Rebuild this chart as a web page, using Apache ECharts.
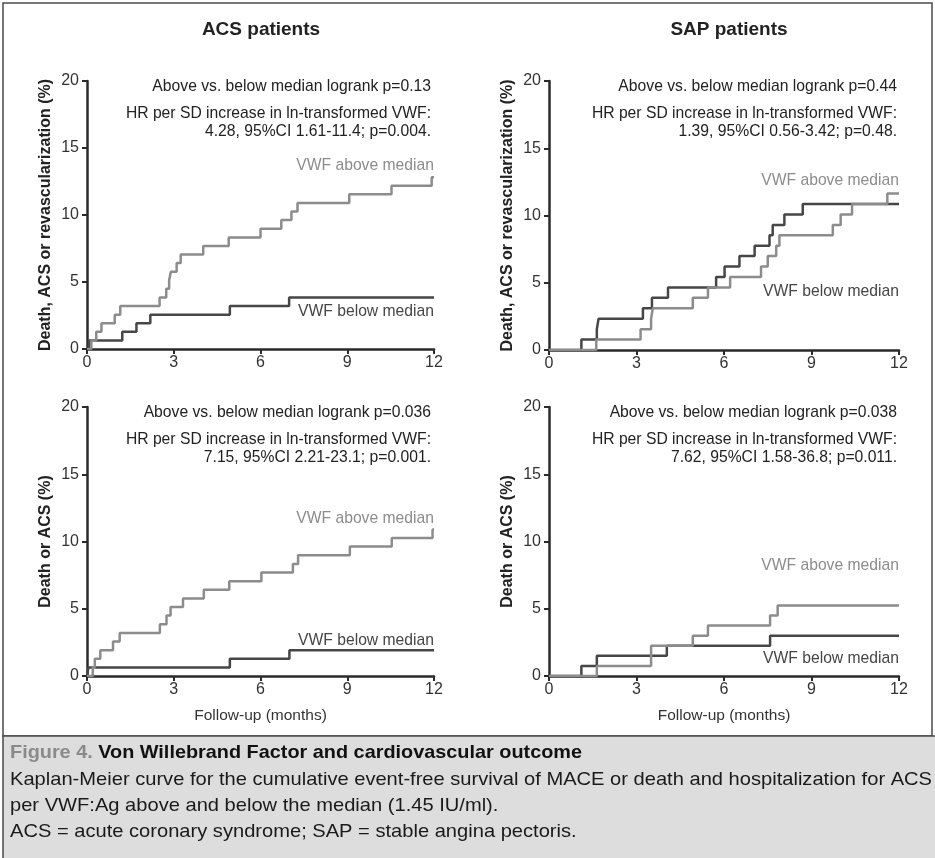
<!DOCTYPE html>
<html>
<head>
<meta charset="utf-8">
<script src="https://cdn.jsdelivr.net/npm/echarts@6/dist/echarts.min.js"></script>
<style>
  html, body { margin: 0; padding: 0; background: #fff; }
  #chart { width: 935px; height: 858px; }
</style>
</head>
<body>
<div id="chart"></div>
<script>
// Follow-up axis ticks (months) and event-rate axis ticks (%)
const monthTicks = [0, 3, 6, 9, 12];
const percentTicks = [0, 5, 10, 15, 20];

// ACS patients: death, ACS or revascularization
const acsMaceAboveT = [0, 0.15, 0.32, 0.5, 0.96, 1.15, 2.51, 2.74, 2.84, 2.9, 3.1, 3.24, 4.02, 4.9, 6.0, 6.72, 7.07, 7.28, 9.07, 10.53, 11.92, 12];
const acsMaceAboveV = [0, 0.64, 1.28, 1.92, 2.56, 3.2, 3.85, 4.49, 5.13, 5.77, 6.41, 7.05, 7.69, 8.33, 8.97, 9.62, 10.26, 10.9, 11.54, 12.18, 12.82, 12.82];
const acsMaceBelowT = [0, 0.07, 1.22, 1.71, 2.19, 4.94, 6.99, 12];
const acsMaceBelowV = [0, 0.64, 1.28, 1.92, 2.56, 3.2, 3.85, 3.85];

// SAP patients: death, ACS or revascularization
const sapMaceAboveT = [0, 1.62, 3.14, 3.5, 3.56, 4.93, 5.45, 6.21, 7.27, 7.5, 7.79, 7.9, 9.73, 10.0, 10.39, 11.6, 12];
const sapMaceAboveV = [0, 0.78, 1.55, 2.33, 3.1, 3.88, 4.65, 5.43, 6.2, 6.98, 7.75, 8.53, 9.3, 10.08, 10.85, 11.63, 11.63];
const sapMaceBelowT = [0, 1.11, 1.64, 1.7, 3.22, 3.53, 4.08, 5.73, 6.02, 6.53, 7.05, 7.56, 7.67, 8.07, 8.7, 12];
const sapMaceBelowV = [0, 0.78, 1.55, 2.33, 3.1, 3.88, 4.65, 5.43, 6.2, 6.98, 7.75, 8.53, 9.3, 10.08, 10.85, 10.85];

// ACS patients: death or ACS
const acsDeathAboveT = [0, 0.2, 0.27, 0.46, 0.9, 1.13, 2.52, 2.75, 2.89, 3.32, 4.04, 4.92, 6.03, 7.12, 7.3, 9.09, 10.54, 11.95, 12];
const acsDeathAboveV = [0, 0.64, 1.28, 1.92, 2.56, 3.2, 3.85, 4.49, 5.13, 5.77, 6.41, 7.05, 7.69, 8.33, 8.97, 9.62, 10.26, 10.9, 10.9];
const acsDeathBelowT = [0, 0.05, 4.94, 7.0, 12];
const acsDeathBelowV = [0, 0.64, 1.28, 1.92, 1.92];

// SAP patients: death or ACS
const sapDeathAboveT = [0, 1.64, 3.5, 4.93, 5.45, 7.58, 7.84, 12];
const sapDeathAboveV = [0, 0.75, 2.25, 3.0, 3.75, 4.5, 5.25, 5.25];
const sapDeathBelowT = [0, 1.11, 1.64, 4.04, 7.58, 12];
const sapDeathBelowV = [0, 0.75, 1.5, 2.25, 3.0, 3.0];

const panelTitles = ['ACS patients', 'SAP patients'];
const yTitles = ['Death, ACS or revascularization (%)', 'Death or ACS (%)'];
const xTitle = 'Follow-up (months)';
const statLines = [
  ['Above vs. below median logrank p=0.13', 'HR per SD increase in ln-transformed VWF:', '4.28, 95%CI 1.61-11.4; p=0.004.'],
  ['Above vs. below median logrank p=0.44', 'HR per SD increase in ln-transformed VWF:', '1.39, 95%CI 0.56-3.42; p=0.48.'],
  ['Above vs. below median logrank p=0.036', 'HR per SD increase in ln-transformed VWF:', '7.15, 95%CI 2.21-23.1; p=0.001.'],
  ['Above vs. below median logrank p=0.038', 'HR per SD increase in ln-transformed VWF:', '7.62, 95%CI 1.58-36.8; p=0.011.']
];
const aboveName = 'VWF above median';
const belowName = 'VWF below median';
const captionTitleA = 'Figure 4. ';
const captionTitleB = 'Von Willebrand Factor and cardiovascular outcome';
const captionLines = [
  'Kaplan-Meier curve for the cumulative event-free survival of MACE or death and hospitalization for ACS',
  'per VWF:Ag above and below the median (1.45 IU/ml).',
  'ACS = acute coronary syndrome; SAP = stable angina pectoris.'
];

const FONT = '"Liberation Sans", Arial, Helvetica, sans-serif';
const LIGHT = '#8c8c8c';
const DARK = '#464646';
const AXIS = '#2a2a2a';
const TXT = 15.7;

const pairs = (t, v) => t.map((x, i) => [x, v[i]]);

const panels = [
  { above: pairs(acsMaceAboveT, acsMaceAboveV), below: pairs(acsMaceBelowT, acsMaceBelowV) },
  { above: pairs(sapMaceAboveT, sapMaceAboveV), below: pairs(sapMaceBelowT, sapMaceBelowV) },
  { above: pairs(acsDeathAboveT, acsDeathAboveV), below: pairs(acsDeathBelowT, acsDeathBelowV) },
  { above: pairs(sapDeathAboveT, sapDeathAboveV), below: pairs(sapDeathBelowT, sapDeathBelowV) }
];

// grid boxes: two columns, two rows
const grids = [
  { left: 87, top: 81, width: 347, height: 268 },
  { left: 549, top: 81, width: 350, height: 269 },
  { left: 87, top: 407, width: 347, height: 269 },
  { left: 549, top: 407, width: 350, height: 269 }
];

const xAxes = grids.map((g, i) => ({
  gridIndex: i, type: 'value', min: monthTicks[0], max: monthTicks[monthTicks.length - 1],
  interval: monthTicks[1] - monthTicks[0],
  name: i >= 2 ? xTitle : '', nameLocation: 'middle', nameGap: 32,
  nameTextStyle: { fontFamily: FONT, fontSize: 15.5, color: '#333' },
  axisLine: { show: true, lineStyle: { color: AXIS, width: 2.5 } },
  axisTick: { show: true, length: 5, lineStyle: { color: AXIS, width: 2 } },
  axisLabel: { fontFamily: FONT, fontSize: 16, color: '#333', margin: 6 },
  splitLine: { show: false }
}));

const yAxes = grids.map((g, i) => ({
  gridIndex: i, type: 'value', min: percentTicks[0], max: percentTicks[percentTicks.length - 1],
  interval: percentTicks[1] - percentTicks[0],
  name: yTitles[i < 2 ? 0 : 1], nameLocation: 'middle', nameGap: 33,
  nameTextStyle: { fontFamily: FONT, fontSize: 16, fontWeight: 'bold', color: '#222' },
  axisLine: { show: true, lineStyle: { color: AXIS, width: 2.5 } },
  axisTick: { show: true, length: 5, lineStyle: { color: AXIS, width: 2 } },
  axisLabel: { fontFamily: FONT, fontSize: 16, color: '#333', margin: 8 },
  splitLine: { show: false }
}));

const series = [];
panels.forEach((p, i) => {
  series.push({
    type: 'line', step: 'end', xAxisIndex: i, yAxisIndex: i, data: p.below,
    symbol: 'none', lineStyle: { color: DARK, width: 2.5 }, z: 3, animation: false
  });
  series.push({
    type: 'line', step: 'end', xAxisIndex: i, yAxisIndex: i, data: p.above,
    symbol: 'none', lineStyle: { color: LIGHT, width: 2.5 }, z: 4, animation: false
  });
});

// text placement helpers
const txt = (x, y, text, opts) => ({
  type: 'text', x, y, silent: true,
  style: Object.assign({ text, font: TXT + 'px ' + FONT, fill: '#222', textAlign: 'right', textVerticalAlign: 'middle' }, opts || {})
});

// horizontal squeeze so the caption lines run the width of the band
const measureCtx = document.createElement('canvas').getContext('2d');
const widthOf = (font, s) => { measureCtx.font = font; return measureCtx.measureText(s).width; };
const CAP_FONT = '19px ' + FONT;
const CAP_BOLD = 'bold 19px ' + FONT;
const capScale = 922 / widthOf(CAP_FONT, captionLines[0]);
const capTitleScale = 572 / widthOf(CAP_BOLD, captionTitleA + captionTitleB);

const graphics = [];
// figure frame and caption band
graphics.push({ type: 'rect', shape: { x: 3, y: 3, width: 929, height: 733 }, style: { fill: 'none', stroke: '#4a4a4a', lineWidth: 1.5 } });
graphics.push({ type: 'rect', shape: { x: 3, y: 736, width: 940, height: 130 }, style: { fill: '#dddddd', stroke: '#4a4a4a', lineWidth: 1.5 } });

// statistics in each panel
const statPos = [
  { x: 431, y: [87, 114, 132] },
  { x: 897, y: [87, 114, 132] },
  { x: 431, y: [413, 440, 458] },
  { x: 897, y: [413, 440, 458] }
];
statLines.forEach((lines, i) => {
  lines.forEach((line, k) => graphics.push(txt(statPos[i].x, statPos[i].y[k], line)));
});

// curve labels
const curveLabels = [
  { x: 434, above: 166, below: 312 },
  { x: 899, above: 181, below: 292 },
  { x: 434, above: 519, below: 641 },
  { x: 899, above: 566, below: 659 }
];
curveLabels.forEach(c => {
  graphics.push(txt(c.x, c.above, aboveName, { fill: LIGHT }));
  graphics.push(txt(c.x, c.below, belowName, { fill: DARK }));
});

// caption
graphics.push({
  type: 'text', x: 10, y: 753, scaleX: capTitleScale, silent: true,
  style: {
    text: '{a|' + captionTitleA + '}{b|' + captionTitleB + '}',
    textVerticalAlign: 'middle',
    rich: {
      a: { font: CAP_BOLD, fill: '#8a8a8a' },
      b: { font: CAP_BOLD, fill: '#111' }
    }
  }
});
captionLines.forEach((line, k) => {
  graphics.push({
    type: 'text', x: 10, y: 780 + k * 26, scaleX: capScale, silent: true,
    style: { text: line, font: CAP_FONT, fill: '#1a1a1a', textVerticalAlign: 'middle' }
  });
});

const chart = echarts.init(document.getElementById('chart'), null, { renderer: 'canvas' });
chart.setOption({
  animation: false,
  backgroundColor: '#ffffff',
  title: panelTitles.map((t, i) => ({
    text: t, left: i === 0 ? 256 : 724, top: 15, textAlign: 'center',
    textStyle: { fontFamily: FONT, fontSize: 19, fontWeight: 'bold', color: '#222' }
  })),
  grid: grids,
  xAxis: xAxes,
  yAxis: yAxes,
  series,
  graphic: graphics
});
</script>
</body>
</html>
